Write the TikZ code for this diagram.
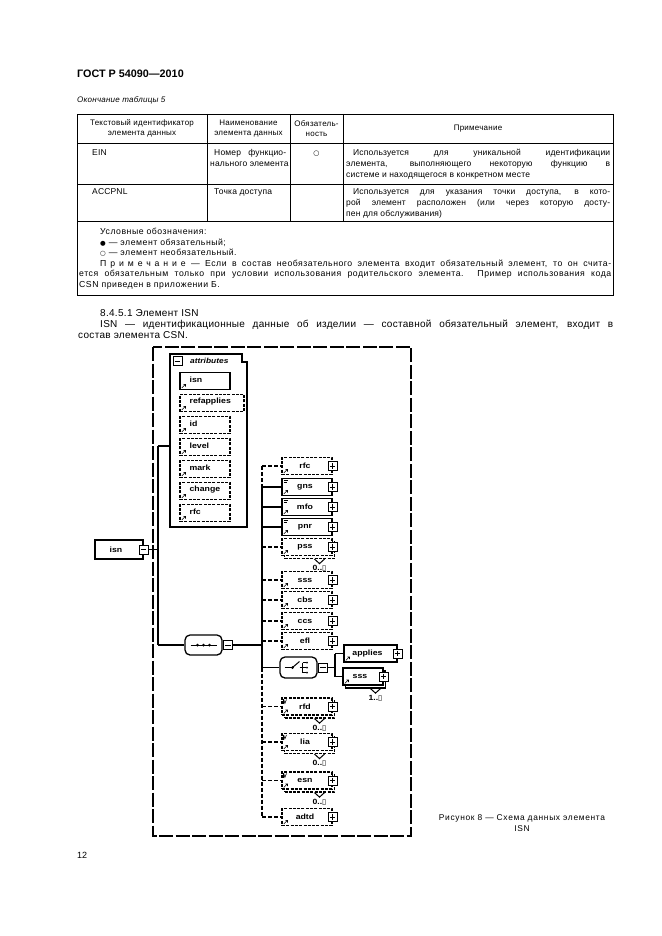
\documentclass[tikz,border=0pt]{standalone}
\usepackage{fontspec}
\setmainfont{Liberation Sans}
\newfontfamily\symf{DejaVu Sans}
\newfontfamily\dfont[FakeStretch=1.15]{Liberation Sans}
\usetikzlibrary{calc}
\newcommand\inftybox{{\symf\mdseries\fontsize{7.5}{8}\selectfont ▯}}
\newcommand\arricon[1]{\draw[icon] ($(#1.south west)+(2.5,-2.2)$) -- ++(3.6,-3.6) -- ++(-2.2,0) ++(2.2,0) -- ++(0,2.2);}
\newcommand\txticon[1]{\draw[icon] ($(#1.north west)+(2.5,2.6)$) -- ++(4.5,0); \draw[icon] ($(#1.north west)+(2.5,4.4)$) -- ++(3,0);}
\newcommand\vicon[1]{\draw[icon] ($(#1.north west)+(2.3,2)$) -- ++(1.2,4) -- ++(1.6,-4); \draw[icon] ($(#1.north west)+(2.3,2)$) -- ++(0,5);}
\newcommand\notchmark[1]{\draw[line width=1pt] ($(#1.south)+(5,0)$) -- ++(5,4.5) -- ++(5,-4.5);}
\begin{document}
\begin{tikzpicture}[x=1pt,y=-1pt,
  every node/.style={inner sep=0pt},
  tb/.style={anchor=base west, font=\fontsize{8.5}{10}\selectfont\addfontfeature{LetterSpace=2}},
  lg/.style={anchor=base west, font=\fontsize{8.7}{10}\selectfont\addfontfeature{LetterSpace=6}},
  bd/.style={anchor=base west, font=\fontsize{10}{11}\selectfont\addfontfeature{LetterSpace=3}},
  th/.style={align=center, font=\fontsize{8}{9.6}\selectfont\addfontfeature{LetterSpace=3}},
  rule/.style={line width=0.75pt},
  elem/.style={draw, line width=1.2pt, fill=white, minimum width=50pt, minimum height=17pt, font=\dfont\bfseries\fontsize{7.6}{8}\selectfont},
  opt/.style={dash pattern=on 3pt off 1.3pt},
  albl/.style={anchor=west, font=\dfont\bfseries\fontsize{7.6}{8}\selectfont},
  pbox/.style={draw, fill=white, line width=1pt, minimum size=9pt, path picture={
     \draw[line width=0.9pt] ([xshift=1.7pt]path picture bounding box.west) -- ([xshift=-1.7pt]path picture bounding box.east);
     \draw[line width=0.9pt] ([yshift=-1.7pt]path picture bounding box.north) -- ([yshift=1.7pt]path picture bounding box.south);}},
  mbox/.style={draw, fill=white, line width=1pt, minimum size=9pt, path picture={
     \draw[line width=0.9pt] ([xshift=1.7pt]path picture bounding box.west) -- ([xshift=-1.7pt]path picture bounding box.east);}},
  wire/.style={line width=1.3pt},
  owire/.style={line width=1.3pt, dash pattern=on 4pt off 2pt},
  icon/.style={line width=0.6pt},
  glyph/.style={line width=1pt},
  comp/.style={draw, line width=1.3pt, fill=white, rounded corners=5pt, minimum width=37pt, minimum height=20pt},
  mult/.style={font=\dfont\bfseries\fontsize{7.5}{8}\selectfont},
]
\fill[white] (0,0) rectangle (661,936);
\useasboundingbox (0,0) rectangle (661,936);

% ---------- heading ----------
\node[anchor=base west, font=\bfseries\fontsize{10.8}{12}\selectfont] (title) at (77,78) {ГОСТ Р 54090—2010};
\node[anchor=base west, font=\itshape\fontsize{8}{9}\selectfont\addfontfeature{LetterSpace=3}] (tcap) at (77,103) {Окончание таблицы 5};

% ---------- table ----------
\draw[rule] (77,114) rectangle (613,295);
\draw[rule] (77,143) -- (613,143);
\draw[rule] (77,184) -- (613,184);
\draw[rule] (77,221) -- (613,221);
\draw[rule] (207,114) -- (207,221);
\draw[rule] (290,114) -- (290,221);
\draw[rule] (343,114) -- (343,221);

\node[th] (h1) at (142,128.5) {Текстовый идентификатор\\элемента данных};
\node[th] (h2) at (248.5,128.5) {Наименование\\элемента данных};
\node[th] (h3) at (316.5,128.5) {Обязатель-\\ность};
\node[th] (h4) at (478,128.5) {Примечание};

\node[tb] (e1) at (92,156) {EIN};
\node[tb] (e2) at (214,156) {\makebox[72pt][s]{Номер функцио-}};
\node[tb] (e3) at (210,167) {нального элемента};
\node[anchor=base, font=\symf\fontsize{7}{8}\selectfont] (e4) at (316.5,156) {○};
\node[tb] (e5) at (353,156) {\makebox[257pt][s]{Используется для уникальной идентификации}};
\node[tb] (e6) at (346,167) {\makebox[264pt][s]{элемента, выполняющего некоторую функцию в}};
\node[tb] (e7) at (346,178) {системе и находящегося в конкретном месте};

\node[tb] (c1) at (92,194) {ACCPNL};
\node[tb] (c2) at (214,194) {Точка доступа};
\node[tb] (c3) at (353,194) {\makebox[257pt][s]{Используется для указания точки доступа, в кото-}};
\node[tb] (c4) at (346,205) {\makebox[264pt][s]{рой элемент расположен (или через которую досту-}};
\node[tb] (c5) at (346,216) {пен для обслуживания)};

\node[lg] (l1) at (100,234.5) {Условные обозначения:};
\node[lg] (l2) at (100,245) {{\symf\fontsize{6.5}{6}\selectfont ●} — элемент обязательный;};
\node[lg] (l3) at (100,255.5) {{\symf\fontsize{6.5}{6}\selectfont ○} — элемент необязательный.};
\node[lg] (l4) at (100,266) {\makebox[511pt][s]{{\addfontfeature{LetterSpace=45}Примечание} — Если в состав необязательного элемента входит обязательный элемент, то он счита-}};
\node[lg] (l5) at (79,276.5) {\makebox[532pt][s]{ется обязательным только при условии использования родительского элемента. Пример использования кода}};
\node[lg] (l6) at (79,287) {CSN приведен в приложении Б.};

% ---------- body text ----------
\node[bd] (b1) at (100,316) {8.4.5.1  Элемент ISN};
\node[bd] (b2) at (100,327) {\makebox[513pt][s]{ISN — идентификационные данные об изделии — составной обязательный элемент, входит в}};
\node[bd] (b3) at (78,338) {состав элемента CSN.};

% ---------- diagram ----------
\draw[line width=1.4pt, dash pattern=on 14pt off 2.5pt] (153,347) rectangle (411,836);

% root
\node[elem, minimum width=48pt, minimum height=19pt] (isn) at (119,549.5) {\hspace*{-6pt}isn};
\node[mbox] (isn-m) at (isn.east) {};
\coordinate (t1) at (158,549.5);
\coordinate (ta) at (158,446);
\coordinate (tb) at (158,645);
\coordinate (attrs-in) at (170,446);
\draw[wire] (isn-m.east) -- (t1);
\draw[wire] (ta) -- (tb);
\draw[wire] (ta) -- (attrs-in);

% attributes group
\draw[line width=1.2pt, fill=white] (170,354) -- (242,354) -- (242,362) -- (247,362) -- (247,527) -- (170,527) -- cycle;
\node[mbox] (attr-m) at (177.5,361) {};
\node[anchor=west, font=\dfont\bfseries\itshape\fontsize{7.3}{8}\selectfont] (attr-t) at (190,360.5) {attributes};

\node[elem, minimum width=50pt] (a1) at (205,381) {};
\node[elem, opt, minimum width=64pt] (a2) at (212,403) {};
\node[elem, opt] (a3) at (205,425) {};
\node[elem, opt] (a4) at (205,447) {};
\node[elem, opt] (a5) at (205,469) {};
\node[elem, opt] (a6) at (205,491) {};
\node[elem, opt] (a7) at (205,513) {};
\node[albl] (a1-t) at ($(a1.west)+(10,-1.5)$) {isn};
\node[albl] (a2-t) at ($(a2.west)+(10,-1.5)$) {refapplies};
\node[albl] (a3-t) at ($(a3.west)+(10,-1.5)$) {id};
\node[albl] (a4-t) at ($(a4.west)+(10,-1.5)$) {level};
\node[albl] (a5-t) at ($(a5.west)+(10,-1.5)$) {mark};
\node[albl] (a6-t) at ($(a6.west)+(10,-1.5)$) {change};
\node[albl] (a7-t) at ($(a7.west)+(10,-1.5)$) {rfc};
\foreach \n in {a1,a2,a3,a4,a5,a6,a7} {\arricon{\n}}

% sequence compositor
\node[comp] (seq) at (203.5,645) {};
\node[mbox] (seq-m) at ($(seq.east)+(5.5,0)$) {};
\draw[glyph] ($(seq.center)+(-13,0)$) -- ($(seq.center)+(13,0)$);
\foreach \dx in {-6,0,6} {\fill ($(seq.center)+(\dx,0)$) circle (1.5pt);}
\draw[wire] (tb) -- (seq.west);
\coordinate (trx) at (262,0);
\draw[wire] (seq-m.east) -- (seq-m.east -| trx);

% children of the sequence
\node[elem, opt] (rfc) at (307,466) {\hspace*{-4pt}rfc};
\node[elem] (gns) at (307,487) {\hspace*{-4pt}gns};
\node[elem] (mfo) at (307,507) {\hspace*{-4pt}mfo};
\node[elem] (pnr) at (307,527) {\hspace*{-4pt}pnr};
\node[elem, opt] (pss-sh) at (309.5,550) {};
\node[elem, opt] (pss) at (307,547) {\hspace*{-4pt}pss};
\node[elem, opt] (sss) at (307,580) {\hspace*{-4pt}sss};
\node[elem, opt] (cbs) at (307,600) {\hspace*{-4pt}cbs};
\node[elem, opt] (ccs) at (307,621) {\hspace*{-4pt}ccs};
\node[elem, opt] (efl) at (307,641) {\hspace*{-4pt}efl};
\node[comp, minimum height=21pt] (cho) at (298.5,667.5) {};
\node[elem, opt] (rfd-sh) at (309.5,709.5) {};
\node[elem, opt] (rfd) at (307,706.5) {\hspace*{-4pt}rfd};
\node[elem, opt] (lia-sh) at (309.5,745) {};
\node[elem, opt] (lia) at (307,742) {\hspace*{-4pt}lia};
\node[elem, opt] (esn-sh) at (309.5,783.5) {};
\node[elem, opt] (esn) at (307,780.5) {\hspace*{-4pt}esn};
\node[elem, opt] (adtd) at (307,817) {\hspace*{-4pt}adtd};

\foreach \n in {rfc,gns,mfo,pnr,pss,sss,cbs,ccs,efl,rfd,lia,esn,adtd} {
  \node[pbox] (\n-p) at (\n.east) {};
  \arricon{\n}
}
\foreach \n in {gns,mfo,pnr} {\txticon{\n}}
\foreach \n in {rfd,lia,esn} {\vicon{\n}}
\foreach \n in {pss,rfd,lia,esn} {
  \notchmark{\n-sh}
  \node[mult] (\n-m) at ($(\n-sh.south)+(10,9.5)$) {0..\inftybox};
}

% trunk and branches
\draw[owire] (rfc.west -| trx) -- (gns.west -| trx);
\draw[wire] (gns.west -| trx) -- (cho.west -| trx);
\draw[owire] (cho.west -| trx) -- (adtd.west -| trx);
\foreach \n in {rfc,pss,sss,cbs,ccs,efl,rfd,lia,esn,adtd} {\draw[owire] (\n.west -| trx) -- (\n.west);}
\foreach \n in {gns,mfo,pnr,cho} {\draw[wire] (\n.west -| trx) -- (\n.west);}

% choice compositor
\node[mbox] (cho-m) at ($(cho.east)+(5.5,0)$) {};
\draw[glyph] ($(cho.center)+(-14,0)$) -- ($(cho.center)+(-6,0)$);
\fill ($(cho.center)+(-6,0)$) circle (1.5pt);
\draw[glyph] ($(cho.center)+(-6,0)$) -- ($(cho.center)+(1,-6)$);
\draw[glyph] ($(cho.center)+(4,-5)$) -- ($(cho.center)+(4,5)$);
\draw[glyph] ($(cho.center)+(1,0)$) -- ($(cho.center)+(4,0)$);
\foreach \dy in {-5,0,5} {\draw[glyph] ($(cho.center)+(4,\dy)$) -- ++(3,0); \fill ($(cho.center)+(8.5,\dy)$) circle (1pt);}

\node[elem, minimum width=53pt] (applies) at (370.5,653.5) {\hspace*{-6pt}applies};
\node[elem, minimum width=40pt] (sss2-sh) at (365.5,679.5) {};
\node[elem, minimum width=40pt] (sss2) at (363,676.5) {\hspace*{-6pt}sss};
\node[pbox] (applies-p) at (applies.east) {};
\node[pbox] (sss2-p) at (sss2.east) {};
\arricon{applies}
\arricon{sss2}
\notchmark{sss2-sh}
\node[mult] (sss2-m) at ($(sss2-sh.south)+(10,9.5)$) {1..\inftybox};
\coordinate (cv) at (335,667.5);
\coordinate (cva) at (335,653.5);
\coordinate (cvb) at (335,676.5);
\draw[wire] (cho-m.east) -- (cv);
\draw[wire] (cva) -- (cvb);
\draw[wire] (cva) -- (applies.west);
\draw[wire] (cvb) -- (sss2.west);

% ---------- caption and page number ----------
\node[anchor=base, font=\fontsize{8.4}{10}\selectfont\addfontfeature{LetterSpace=8}] (cap1) at (522,820) {Рисунок 8 — Схема данных элемента};
\node[anchor=base, font=\fontsize{8.4}{10}\selectfont\addfontfeature{LetterSpace=8}] (cap2) at (522,831) {ISN};
\node[anchor=base west, font=\fontsize{9}{10}\selectfont] (pg) at (77,858) {12};
\end{tikzpicture}
\end{document}
